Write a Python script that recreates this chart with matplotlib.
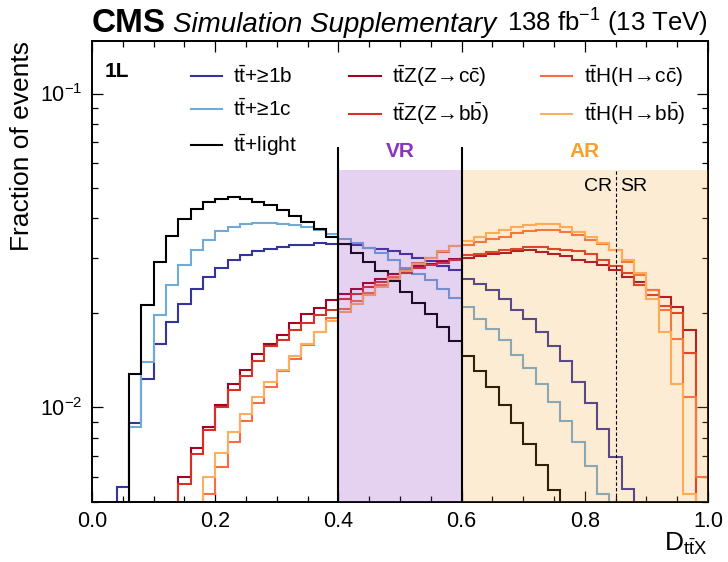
import numpy as np
import matplotlib
matplotlib.use("Agg")
import matplotlib.pyplot as plt
from matplotlib.ticker import MultipleLocator, FormatStrFormatter, LogLocator, LogFormatterSciNotation, NullFormatter

plt.rcParams['font.family'] = ['Liberation Sans', 'DejaVu Sans']
plt.rcParams['mathtext.fontset'] = 'custom'
plt.rcParams['mathtext.rm'] = 'Liberation Sans'
plt.rcParams['mathtext.it'] = 'Liberation Sans:italic'
plt.rcParams['mathtext.bf'] = 'Liberation Sans:bold'

# ---------------- data (fraction of events per bin, 50 bins of width 0.02) ----------------
bin_edges = np.linspace(0.0, 1.0, 51)

tt_b = [0, 0, 0.00555, 0.00891, 0.01226, 0.01585, 0.01867, 0.02137, 0.02387, 0.02600,
        0.02785, 0.02937, 0.03048, 0.03139, 0.03186, 0.03240, 0.03280, 0.03296, 0.03346, 0.03321,
        0.03321, 0.03280, 0.03214, 0.03200, 0.03139, 0.03087, 0.02988, 0.02923, 0.02818, 0.02731,
        0.02569, 0.02474, 0.02357, 0.02207, 0.02049, 0.01905, 0.01735, 0.01573, 0.01409, 0.01202,
        0.01033, 0.00853, 0.00696, 0.00549, 0, 0, 0, 0, 0, 0]

tt_c = [0, 0, 0, 0.00863, 0.01399, 0.01962, 0.02444, 0.02846, 0.03178, 0.03419,
        0.03635, 0.03752, 0.03846, 0.03874, 0.03874, 0.03846, 0.03799, 0.03752, 0.03663, 0.03575,
        0.03447, 0.03338, 0.03214, 0.03099, 0.02952, 0.02785, 0.02652, 0.02536, 0.02387, 0.02228,
        0.02085, 0.01915, 0.01770, 0.01633, 0.01470, 0.01332, 0.01182, 0.01038, 0.00902, 0.00777,
        0.00648, 0.00529, 0, 0, 0, 0, 0, 0, 0, 0]

tt_light = [0, 0, 0, 0.01278, 0.02122, 0.02902, 0.03512, 0.03980, 0.04296, 0.04509,
            0.04622, 0.04667, 0.04622, 0.04509, 0.04401, 0.04243, 0.04080, 0.03892, 0.03708, 0.03486,
            0.03320, 0.03109, 0.02902, 0.02710, 0.02524, 0.02328, 0.02147, 0.01976, 0.01800, 0.01621,
            0.01455, 0.01309, 0.01158, 0.01020, 0.00889, 0.00764, 0.00655, 0.00545, 0, 0,
            0, 0, 0, 0, 0, 0, 0, 0, 0, 0]

ttZ_cc = [0, 0, 0, 0, 0, 0, 0, 0.00598, 0.00740, 0.00868,
          0.01020, 0.01182, 0.01316, 0.01473, 0.01593, 0.01702, 0.01854, 0.01986, 0.02070, 0.02200,
          0.02300, 0.02380, 0.02490, 0.02560, 0.02650, 0.02730, 0.02810, 0.02870, 0.02920, 0.02960,
          0.03000, 0.03040, 0.03070, 0.03100, 0.03140, 0.03160, 0.03120, 0.03090, 0.03030, 0.02950,
          0.02900, 0.02850, 0.02730, 0.02600, 0.02510, 0.02360, 0.02240, 0.02090, 0.01760, 0]

ttZ_bb = [0, 0, 0, 0, 0, 0, 0, 0.00569, 0.00710, 0.00847,
          0.01005, 0.01138, 0.01262, 0.01409, 0.01562, 0.01633, 0.01757, 0.01854, 0.01962, 0.02045,
          0.02220, 0.02300, 0.02420, 0.02500, 0.02600, 0.02680, 0.02770, 0.02840, 0.02880, 0.02940,
          0.03050, 0.03090, 0.03130, 0.03160, 0.03200, 0.03240, 0.03240, 0.03200, 0.03160, 0.03140,
          0.03070, 0.02950, 0.02830, 0.02680, 0.02450, 0.02280, 0.02100, 0.02000, 0.01490, 0]

ttH_cc = [0, 0, 0, 0, 0, 0, 0, 0, 0, 0.00529,
          0.00647, 0.00773, 0.00902, 0.01030, 0.01158, 0.01309, 0.01430, 0.01580, 0.01740, 0.01920,
          0.02060, 0.02180, 0.02320, 0.02460, 0.02600, 0.02740, 0.02880, 0.03000, 0.03130, 0.03260,
          0.03300, 0.03360, 0.03430, 0.03500, 0.03600, 0.03650, 0.03670, 0.03670, 0.03620, 0.03530,
          0.03420, 0.03320, 0.03160, 0.02910, 0.02630, 0.02360, 0.02040, 0.01650, 0.01080, 0.00600]

ttH_bb = [0, 0, 0, 0, 0, 0, 0, 0, 0, 0.00601,
          0.00713, 0.00832, 0.00953, 0.01082, 0.01202, 0.01316, 0.01461, 0.01593, 0.01735, 0.01881,
          0.02010, 0.02130, 0.02280, 0.02420, 0.02560, 0.02710, 0.02860, 0.02990, 0.03140, 0.03270,
          0.03380, 0.03500, 0.03600, 0.03670, 0.03760, 0.03820, 0.03850, 0.03830, 0.03760, 0.03620,
          0.03500, 0.03350, 0.03160, 0.02940, 0.02680, 0.02220, 0.01740, 0.01190, 0.00530, 0]

labels = [r"$\mathrm{t\bar{t}}$+≥1b", r"$\mathrm{t\bar{t}}$+≥1c", r"$\mathrm{t\bar{t}}$+light",
          r"$\mathrm{t\bar{t}Z(Z\!\rightarrow\! c\bar{c})}$", r"$\mathrm{t\bar{t}Z(Z\!\rightarrow\! b\bar{b})}$",
          r"$\mathrm{t\bar{t}H(H\!\rightarrow\! c\bar{c})}$", r"$\mathrm{t\bar{t}H(H\!\rightarrow\! b\bar{b})}$"]
series = [tt_b, tt_c, tt_light, ttZ_cc, ttZ_bb, ttH_cc, ttH_bb]
colors = ["#33359a", "#6fabd6", "#000000", "#a50026", "#d73027", "#f46d43", "#fdae61"]

VR_COL = "#8c32be"
AR_COL = "#f9a02a"
YMIN, YMAX = 0.005, 0.147

# ---------------- figure ----------------
fig = plt.figure(figsize=(7.28, 5.62), dpi=100)
ax = fig.add_axes([0.1264, 0.1073, 0.8461, 0.8197])
ax.set_yscale('log')

for vals, col, lab in zip(series, colors, labels):
    v = np.asarray(vals, dtype=float)
    v = np.where(v > 0, v, 1e-5)
    ax.stairs(v, bin_edges, baseline=None, color=col, lw=1.5, label=lab, zorder=2)

# regions
ax.fill_between([0.4, 0.6], YMIN, 0.057, color=VR_COL, alpha=0.22, lw=0, zorder=3)
ax.fill_between([0.6, 1.0], YMIN, 0.057, color=AR_COL, alpha=0.2, lw=0, zorder=3)
ax.vlines([0.4, 0.6], YMIN, 0.0674, color='k', lw=1.5, zorder=4)
ax.vlines([0.85], YMIN, 0.057, color='k', lw=0.8, linestyles=(0, (3, 2)), zorder=4)

ax.text(0.5, 0.0652, 'VR', color=VR_COL, fontweight='bold', fontsize=15, ha='center', va='center')
ax.text(0.8, 0.0652, 'AR', color=AR_COL, fontweight='bold', fontsize=15, ha='center', va='center')
ax.text(0.844, 0.0506, 'CR', fontsize=14, ha='right', va='center')
ax.text(0.857, 0.0506, 'SR', fontsize=14, ha='left', va='center')
ax.text(0.021, 0.933, '1L', fontweight='bold', fontsize=15, ha='left', va='center', transform=ax.transAxes)

ax.set_xlim(0, 1)
ax.set_ylim(YMIN, YMAX)

ax.xaxis.set_major_locator(MultipleLocator(0.2))
ax.xaxis.set_minor_locator(MultipleLocator(0.05))
ax.xaxis.set_major_formatter(FormatStrFormatter('%.1f'))
ax.yaxis.set_major_locator(LogLocator(base=10))
ax.yaxis.set_minor_locator(LogLocator(base=10, subs=np.arange(2, 10)))
ax.yaxis.set_major_formatter(LogFormatterSciNotation())
ax.yaxis.set_minor_formatter(NullFormatter())

ax.tick_params(which='both', direction='in', top=True, right=True, labelsize=15.5)
ax.tick_params(which='major', length=8, width=0.9)
ax.tick_params(which='minor', length=4, width=0.9)
ax.tick_params(axis='x', pad=7)
ax.tick_params(axis='y', pad=7)
for s in ax.spines.values():
    s.set_linewidth(1.4)

ax.set_ylabel('Fraction of events', fontsize=19, loc='top')
ax.set_xlabel(r'$\mathrm{D_{t\bar{t}X}}$', fontsize=19, loc='right', labelpad=-1)

leg = ax.legend(ncol=3, loc='upper left', bbox_to_anchor=(0.160, 0.952), frameon=False,
                fontsize=15, handlelength=1.5, handletextpad=0.55, columnspacing=2.5,
                labelspacing=0.55, borderpad=0, borderaxespad=0)

# header
fig.canvas.draw()
r = fig.canvas.get_renderer()
ybase = 1.0195
t1 = ax.text(0.0, ybase, 'CMS', fontweight='bold', fontsize=24, ha='left', va='baseline', transform=ax.transAxes)
fig.canvas.draw()
bb = t1.get_window_extent(r)
x2 = ax.transAxes.inverted().transform((bb.x1 + 7, bb.y0))[0]
ax.text(x2, ybase, 'Simulation Supplementary', fontstyle='italic', fontsize=20, ha='left', va='baseline',
        transform=ax.transAxes)
ax.text(1.0, ybase, r'138 fb$^{-1}$ (13 TeV)', fontsize=18.5, ha='right', va='baseline', transform=ax.transAxes)

fig.savefig('out.png', dpi=100)
